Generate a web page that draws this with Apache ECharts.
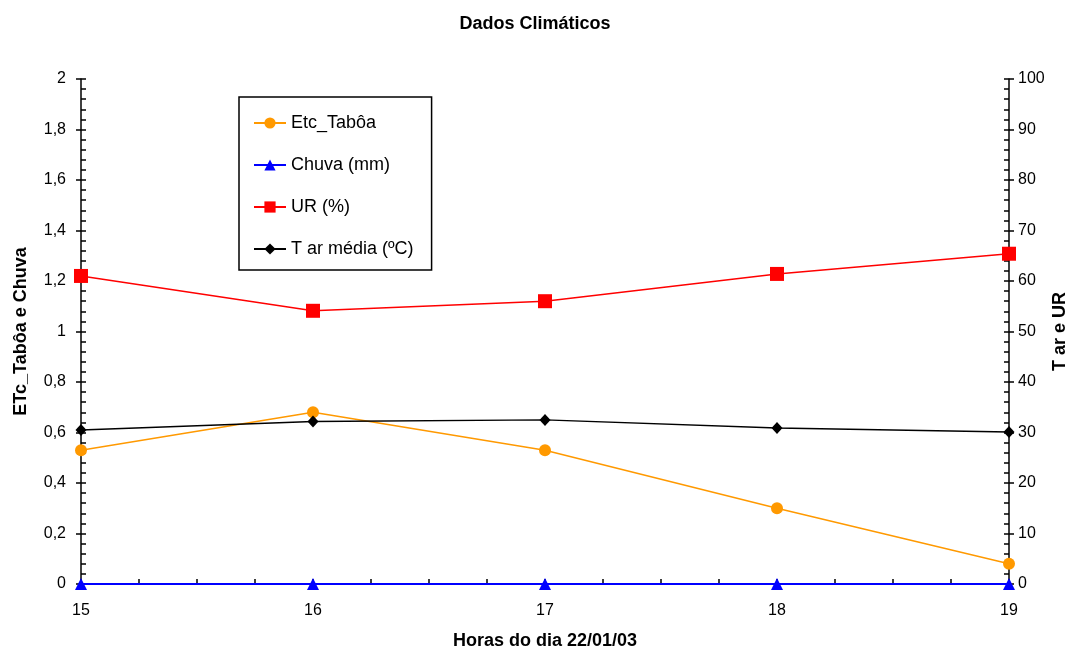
<!DOCTYPE html>
<html>
<head>
<meta charset="utf-8">
<script src="https://cdn.jsdelivr.net/npm/echarts@6/dist/echarts.min.js"></script>
<style>
  html, body { margin: 0; padding: 0; background: #fff; }
  #chart { width: 1070px; height: 650px; }
</style>
</head>
<body>
<div id="chart"></div>
<script>
// hours of the day (x values)
var hours = [15, 16, 17, 18, 19];
// left axis series
var etcTaboa = [0.53, 0.68, 0.53, 0.30, 0.08];
var chuva = [0, 0, 0, 0, 0];
// right axis series
var ur = [61.0, 54.1, 56.0, 61.4, 65.4];
var tArMedia = [30.5, 32.2, 32.5, 30.9, 30.1];

var FONT = '"Liberation Sans", Arial, sans-serif';

function pairs(vals) {
    return hours.map(function (h, i) { return [h, vals[i]]; });
}

var chart = echarts.init(document.getElementById('chart'));

var tickLabel = { color: '#000', fontFamily: FONT, fontSize: 16 };
var nameStyle = { fontFamily: FONT, fontSize: 18, fontWeight: 'bold', color: '#000' };
var blackLine = { color: '#000', width: 1.5 };

var option = {
    animation: false,
    backgroundColor: '#fff',
    title: {
        text: 'Dados Climáticos',
        left: 'center',
        top: 10,
        textStyle: nameStyle
    },
    // keep the plot box fixed, labels may sit outside it
    grid: { left: 81, right: 61, top: 79, bottom: 66, outerBoundsMode: 'none', containLabel: false },
    legend: {
        orient: 'vertical',
        left: 239,
        top: 97,
        padding: [17, 18, 12, 14],
        itemWidth: 32,
        itemHeight: 14,
        itemGap: 24,
        backgroundColor: '#fff',
        borderColor: '#000',
        borderWidth: 1.5,
        textStyle: { fontFamily: FONT, fontSize: 18, color: '#000' },
        data: ['Etc_Tabôa', 'Chuva (mm)', 'UR (%)', 'T ar média (ºC)']
    },
    xAxis: {
        type: 'value',
        min: 15,
        max: 19,
        interval: 1,
        name: 'Horas do dia 22/01/03',
        nameLocation: 'middle',
        nameGap: 48,
        nameTextStyle: nameStyle,
        axisLine: { lineStyle: blackLine },
        axisTick: { inside: true, length: 5, lineStyle: blackLine },
        minorTick: { show: true, splitNumber: 4, length: 5, lineStyle: blackLine },
        axisLabel: Object.assign({ margin: 19 }, tickLabel),
        splitLine: { show: false }
    },
    yAxis: [
        {
            type: 'value',
            min: 0,
            max: 2,
            interval: 0.2,
            position: 'left',
            name: 'ETc_Tabôa e Chuva',
            nameLocation: 'middle',
            nameGap: 51,
            nameRotate: 90,
            nameTextStyle: nameStyle,
            axisLine: { show: true, lineStyle: blackLine },
            axisTick: { inside: true, length: 5, lineStyle: blackLine },
            minorTick: { show: true, splitNumber: 5, length: 5, lineStyle: blackLine },
            axisLabel: Object.assign({
                margin: 15,
                formatter: function (v) { return String(Math.round(v * 10) / 10).replace('.', ','); }
            }, tickLabel),
            splitLine: { show: false }
        },
        {
            type: 'value',
            min: 0,
            max: 100,
            interval: 10,
            position: 'right',
            name: 'T ar e UR',
            nameLocation: 'middle',
            nameGap: 42,
            nameMoveOverlap: false,
            nameRotate: 90,
            nameTextStyle: nameStyle,
            axisLine: { show: true, lineStyle: blackLine },
            axisTick: { inside: true, length: 5, lineStyle: blackLine },
            minorTick: { show: true, splitNumber: 5, length: 5, lineStyle: blackLine },
            axisLabel: Object.assign({ margin: 9 }, tickLabel),
            splitLine: { show: false }
        },
        // overlay axes just to draw the outer half of the crossing major ticks
        {
            type: 'value', min: 0, max: 2, interval: 0.2, position: 'left',
            axisLine: { show: false },
            axisTick: { show: true, inside: false, length: 5, lineStyle: blackLine },
            axisLabel: { show: false },
            splitLine: { show: false }
        },
        {
            type: 'value', min: 0, max: 100, interval: 10, position: 'right',
            axisLine: { show: false },
            axisTick: { show: true, inside: false, length: 5, lineStyle: blackLine },
            axisLabel: { show: false },
            splitLine: { show: false }
        }
    ],
    series: [
        {
            name: 'Etc_Tabôa',
            type: 'line',
            yAxisIndex: 0,
            data: pairs(etcTaboa),
            color: '#FF9900',
            lineStyle: { width: 1.5 },
            symbol: 'circle',
            symbolSize: 12,
            z: 3
        },
        {
            name: 'Chuva (mm)',
            type: 'line',
            yAxisIndex: 0,
            data: pairs(chuva),
            color: '#0000FF',
            lineStyle: { width: 2 },
            symbol: 'triangle',
            symbolSize: 12,
            z: 4
        },
        {
            name: 'UR (%)',
            type: 'line',
            yAxisIndex: 1,
            data: pairs(ur),
            color: '#FF0000',
            lineStyle: { width: 1.5 },
            symbol: 'rect',
            symbolSize: 14,
            z: 3
        },
        {
            name: 'T ar média (ºC)',
            type: 'line',
            yAxisIndex: 1,
            data: pairs(tArMedia),
            color: '#000',
            lineStyle: { width: 1.5 },
            symbol: 'diamond',
            symbolSize: [11, 12],
            z: 3
        }
    ]
};

chart.setOption(option);
</script>
</body>
</html>
